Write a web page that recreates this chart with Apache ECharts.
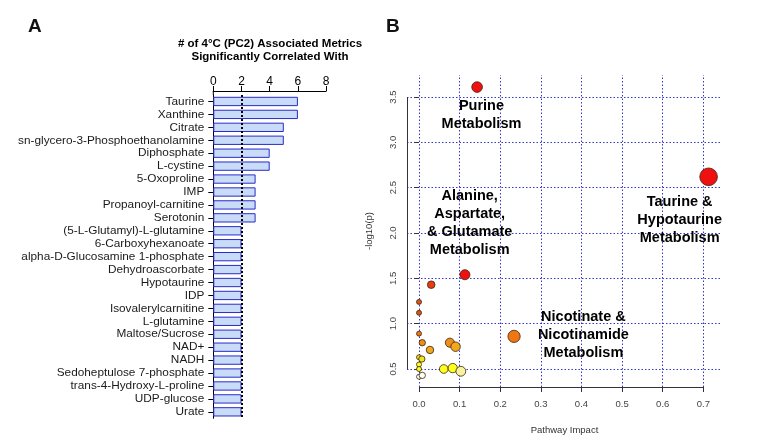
<!DOCTYPE html>
<html>
<head>
<meta charset="utf-8">
<script src="https://cdn.jsdelivr.net/npm/echarts@6/dist/echarts.min.js"></script>
<style>
html,body{margin:0;padding:0;background:#fff;}
#chart{width:757px;height:447px;}
</style>
</head>
<body>
<div id="chart"></div>
<script>
// ---------- Panel A data ----------
const metabolites = [
  'Taurine','Xanthine','Citrate','sn-glycero-3-Phosphoethanolamine','Diphosphate','L-cystine',
  '5-Oxoproline','IMP','Propanoyl-carnitine','Serotonin','(5-L-Glutamyl)-L-glutamine',
  '6-Carboxyhexanoate','alpha-D-Glucosamine 1-phosphate','Dehydroascorbate','Hypotaurine','IDP',
  'Isovalerylcarnitine','L-glutamine','Maltose/Sucrose','NAD+','NADH','Sedoheptulose 7-phosphate',
  'trans-4-Hydroxy-L-proline','UDP-glucose','Urate'
];
const metricCounts = [6,6,5,5,4,4,3,3,3,3,2,2,2,2,2,2,2,2,2,2,2,2,2,2,2];
const countThreshold = 2;
const countTicks = [0, 8, 2]; // min, max, interval

// ---------- Panel B data ----------
const pathwayImpact = [0.143,0.713,0.113,0.030,0,0,0,0.008,0.076,0.090,0.027,0.234,0,0.007,0,0,0.061,0.083,0.103,0,0.008];
const negLog10P     = [3.61,2.62,1.54,1.43,1.24,1.12,0.89,0.79,0.79,0.746,0.71,0.86,0.63,0.61,0.55,0.50,0.50,0.51,0.475,0.415,0.43];
const impactTicks = [0.0,0.1,0.2,0.3,0.4,0.5,0.6,0.7];
const logpTicks   = [0.5,1.0,1.5,2.0,2.5,3.0,3.5];
const annoText = ['Purine\nMetabolism','Alanine,\nAspartate,\n& Glutamate\nMetabolism','Taurine &\nHypotaurine\nMetabolism','Nicotinate &\nNicotinamide\nMetabolism'];
const annoX = [0.155, 0.126, 0.643, 0.406];
const annoY = [3.30, 2.11, 2.14, 0.875];

const xMinB = -0.0296, xMaxB = 0.746, yMinB = 0.3015, yMaxB = 3.743;
const FONT = '"Liberation Sans", Arial, sans-serif';

const chart = echarts.init(document.getElementById('chart'));

const scatterData = pathwayImpact.map((x, i) => [x, negLog10P[i]]);
const annoData = annoText.map((t, i) => ({ name: t, value: [annoX[i], annoY[i]] }));

const gridLines = [];
impactTicks.forEach(v => gridLines.push({ xAxis: v }));
logpTicks.forEach(v => gridLines.push({ yAxis: v }));

const option = {
  backgroundColor: '#fff',
  animation: false,
  title: [
    { text: 'A', left: 28, top: 17, padding: 0,
      textStyle: { fontFamily: FONT, fontSize: 19, fontWeight: 'bold', color: '#111', lineHeight: 20 } },
    { text: 'B', left: 386, top: 17, padding: 0,
      textStyle: { fontFamily: FONT, fontSize: 19, fontWeight: 'bold', color: '#111', lineHeight: 20 } },
    { text: '# of 4°C (PC2) Associated Metrics\nSignificantly Correlated With', left: 270, top: 37, padding: 0,
      textAlign: 'center',
      textStyle: { fontFamily: FONT, fontSize: 11.5, fontWeight: 'bold', color: '#000', lineHeight: 13, align: 'center' } }
  ],
  grid: [
    { left: 213.3, top: 95, width: 112.8, height: 323.3, containLabel: false },
    { left: 407, top: 75, width: 315, height: 312, containLabel: false }
  ],
  xAxis: [
    { type: 'value', gridIndex: 0, position: 'top', offset: 4,
      min: countTicks[0], max: countTicks[1], interval: countTicks[2],
      axisLine: { show: true, lineStyle: { color: '#000', width: 1 } },
      axisTick: { show: true, length: 5, lineStyle: { color: '#000' } },
      axisLabel: { fontFamily: FONT, fontSize: 12, color: '#000', margin: 3 },
      splitLine: { show: false } },
    { type: 'value', gridIndex: 1, min: xMinB, max: xMaxB,
      axisLine: { show: false },
      axisTick: { show: true, length: 5, customValues: impactTicks, lineStyle: { color: '#333' } },
      axisLabel: { customValues: impactTicks, formatter: v => v.toFixed(1),
        fontFamily: FONT, fontSize: 9.5, color: '#444', margin: 12 },
      splitLine: { show: false },
      name: 'Pathway Impact', nameLocation: 'middle', nameGap: 38,
      nameTextStyle: { fontFamily: FONT, fontSize: 9.5, color: '#333' } }
  ],
  yAxis: [
    { type: 'category', gridIndex: 0, data: metabolites, inverse: true,
      axisLine: { show: true, lineStyle: { color: '#000', width: 1 } },
      axisTick: { show: true, alignWithLabel: true, length: 5, lineStyle: { color: '#000' } },
      axisLabel: { fontFamily: FONT, fontSize: 11.8, color: '#1a1a1a', margin: 9, interval: 0 },
      splitLine: { show: false } },
    { type: 'value', gridIndex: 1, min: yMinB, max: yMaxB,
      axisLine: { show: false },
      axisTick: { show: true, length: 5, customValues: logpTicks, lineStyle: { color: '#333' } },
      axisLabel: { customValues: logpTicks, formatter: v => v.toFixed(1), rotate: 90,
        fontFamily: FONT, fontSize: 9.5, color: '#444', margin: 9 },
      splitLine: { show: false },
      name: '-log10(p)', nameLocation: 'middle', nameRotate: 90, nameGap: 33,
      nameTextStyle: { fontFamily: FONT, fontSize: 9.5, color: '#333' } }
  ],
  visualMap: [{
    type: 'piecewise', show: false, seriesIndex: 2, dimension: 1,
    pieces: [
      { lt: 0.45, color: '#fffff2' },
      { gte: 0.45, lt: 0.49, color: '#f9f3a0' },
      { gte: 0.49, lt: 0.58, color: '#ffff1e' },
      { gte: 0.58, lt: 0.68, color: '#f4e21e' },
      { gte: 0.68, lt: 0.77, color: '#f3a81c' },
      { gte: 0.77, lt: 0.85, color: '#f08c1a' },
      { gte: 0.85, lt: 1.0, color: '#f07612' },
      { gte: 1.0, lt: 1.3, color: '#e05512' },
      { gte: 1.3, lt: 1.5, color: '#e53c10' },
      { gte: 1.5, color: '#f01010' }
    ]
  }],
  series: [
    { type: 'bar', xAxisIndex: 0, yAxisIndex: 0, data: metricCounts,
      barCategoryGap: '28%',
      itemStyle: { color: '#c9dcf7', borderColor: '#2a2acc', borderWidth: 1 },
      markLine: { silent: true, symbol: 'none', label: { show: false },
        lineStyle: { color: '#000', type: [2, 2], width: 2 },
        data: [{ xAxis: countThreshold }] } },
    { type: 'scatter', xAxisIndex: 1, yAxisIndex: 1, data: annoData, symbolSize: 1, silent: true, z: 1,
      itemStyle: { color: 'rgba(0,0,0,0)', opacity: 1 },
      label: { show: true, position: [0, 0], formatter: p => p.name,
        fontFamily: FONT, fontSize: 14.5, fontWeight: 'bold', color: '#000', lineHeight: 18,
        align: 'center', verticalAlign: 'middle',
        textBorderWidth: 0, textBorderColor: 'transparent', opacity: 1 },
      markLine: { silent: true, symbol: 'none', label: { show: false }, animation: false, z: 0,
        data: [
          ...gridLines.map(d => Object.assign({}, d, { lineStyle: { color: '#3434d2', type: [1.5, 2], width: 1 } })),
          [{ coord: [impactTicks[0], yMinB], lineStyle: { color: '#333', type: 'solid', width: 1 } },
           { coord: [impactTicks[impactTicks.length - 1], yMinB] }],
          [{ coord: [xMinB, logpTicks[0]], lineStyle: { color: '#333', type: 'solid', width: 1 } },
           { coord: [xMinB, logpTicks[logpTicks.length - 1]] }]
        ] } },
    { type: 'scatter', xAxisIndex: 1, yAxisIndex: 1, data: scatterData, z: 3,
      symbolSize: v => 5 + 15 * Math.sqrt(v[0]),
      itemStyle: { borderColor: '#3a2410', borderWidth: 0.8, opacity: 1 } }
  ],
  graphic: [
    { type: 'line', shape: { x1: 213.3, y1: 91, x2: 213.3, y2: 95 }, style: { stroke: '#000', lineWidth: 1 } }
  ]
};
chart.setOption(option);
</script>
</body>
</html>
